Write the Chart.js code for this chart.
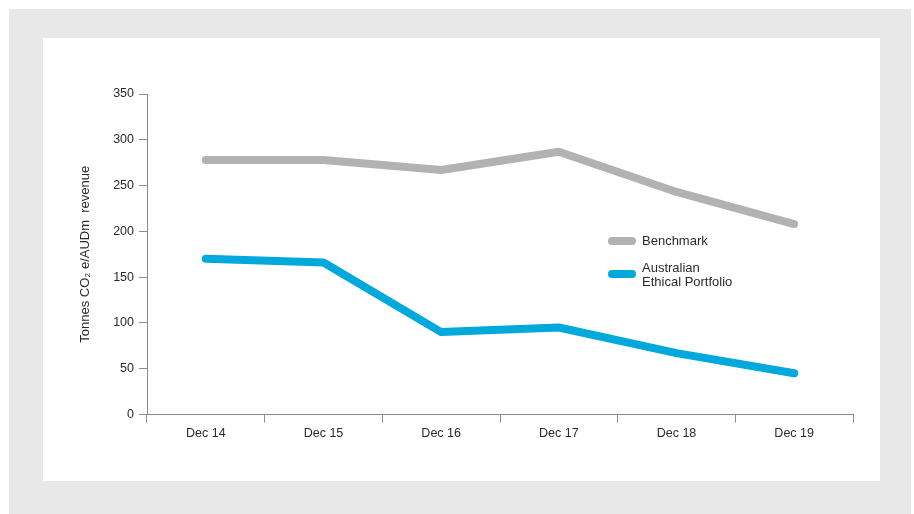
<!DOCTYPE html>
<html>
<head>
<meta charset="utf-8">
<script src="https://cdn.jsdelivr.net/npm/chart.js@4.4.1/dist/chart.umd.min.js"></script>
<style>
    body { margin: 0; background: #ffffff; font-family: "Liberation Sans", Arial, sans-serif; }
    #outer { position: absolute; left: 9px; top: 9px; width: 902px; height: 505px; background: #e8e8e8; }
    #panel { position: absolute; left: 43px; top: 38px; width: 837px; height: 443px; background: #ffffff; }
    #panel canvas { position: absolute; left: 0; top: 0; }
    .leg { position: absolute; font-size: 13px; color: #2a2a2a; line-height: 14px; }
    .swatch { position: absolute; width: 28px; height: 8px; border-radius: 4px; }
</style>
</head>
<body>
<div id="outer"></div>
<div id="panel">
    <canvas id="CO2_Graph" width="837" height="443"></canvas>
    <div class="swatch" style="left:565px; top:199px; background:#b2b2b2;"></div>
    <div class="leg" style="left:599px; top:196px;">Benchmark</div>
    <div class="swatch" style="left:565px; top:232px; background:#00a9dc;"></div>
    <div class="leg" style="left:599px; top:223px;">Australian<br>Ethical Portfolio</div>
</div>
<script>
// categories and series
var labels = ['Dec 14', 'Dec 15', 'Dec 16', 'Dec 17', 'Dec 18', 'Dec 19'];
var benchmark = [278, 278, 267, 287, 243, 208];
var portfolio = [170, 166, 90, 95, 67, 45];
var yTicks = [0, 50, 100, 150, 200, 250, 300, 350];

var axisColor = '#8a8a8a';
var textColor = '#2a2a2a';

var ctx = document.getElementById('CO2_Graph').getContext('2d');

var data = {
    labels: labels,
    datasets: [{
        label: 'Benchmark',
        data: benchmark,
        borderColor: '#b2b2b2',
        borderWidth: 8,
        borderCapStyle: 'round',
        borderJoinStyle: 'round',
        pointRadius: 0,
        tension: 0
    },
    {
        label: 'Australian Ethical Portfolio',
        data: portfolio,
        borderColor: '#00a9dc',
        borderWidth: 8,
        borderCapStyle: 'round',
        borderJoinStyle: 'round',
        pointRadius: 0,
        tension: 0
    }]
};

var options = {
    responsive: false,
    animation: false,
    layout: {
        padding: { left: 0, right: 27, top: 56, bottom: 0 }
    },
    plugins: {
        legend: { display: false },
        tooltip: { enabled: false }
    },
    scales: {
        x: {
            offset: true,
            grid: {
                offset: true,
                drawOnChartArea: false,
                tickLength: 8,
                color: axisColor
            },
            border: { display: true, color: axisColor, width: 1 },
            ticks: {
                color: textColor,
                padding: 4,
                maxRotation: 0,
                font: { family: 'Liberation Sans', size: 12.5 }
            },
            afterFit: function (scale) { scale.height = 66.5; }
        },
        y: {
            min: 0,
            max: 350,
            afterBuildTicks: function (scale) {
                scale.ticks = yTicks.map(function (v) { return { value: v }; });
            },
            grid: {
                drawOnChartArea: false,
                tickLength: 8,
                color: axisColor
            },
            border: { display: true, color: axisColor, width: 1 },
            ticks: {
                color: textColor,
                padding: 5,
                font: { family: 'Liberation Sans', size: 12.5 }
            },
            title: {
                display: true,
                text: 'Tonnes CO\u2082 e/AUDm  revenue',
                color: textColor,
                padding: { top: 35, bottom: 0 },
                font: { family: 'Liberation Sans', size: 13 }
            },
            afterFit: function (scale) { scale.width = 104; }
        }
    }
};

var graph = new Chart(ctx, {
    type: 'line',
    data: data,
    options: options
});
</script>
</body>
</html>
